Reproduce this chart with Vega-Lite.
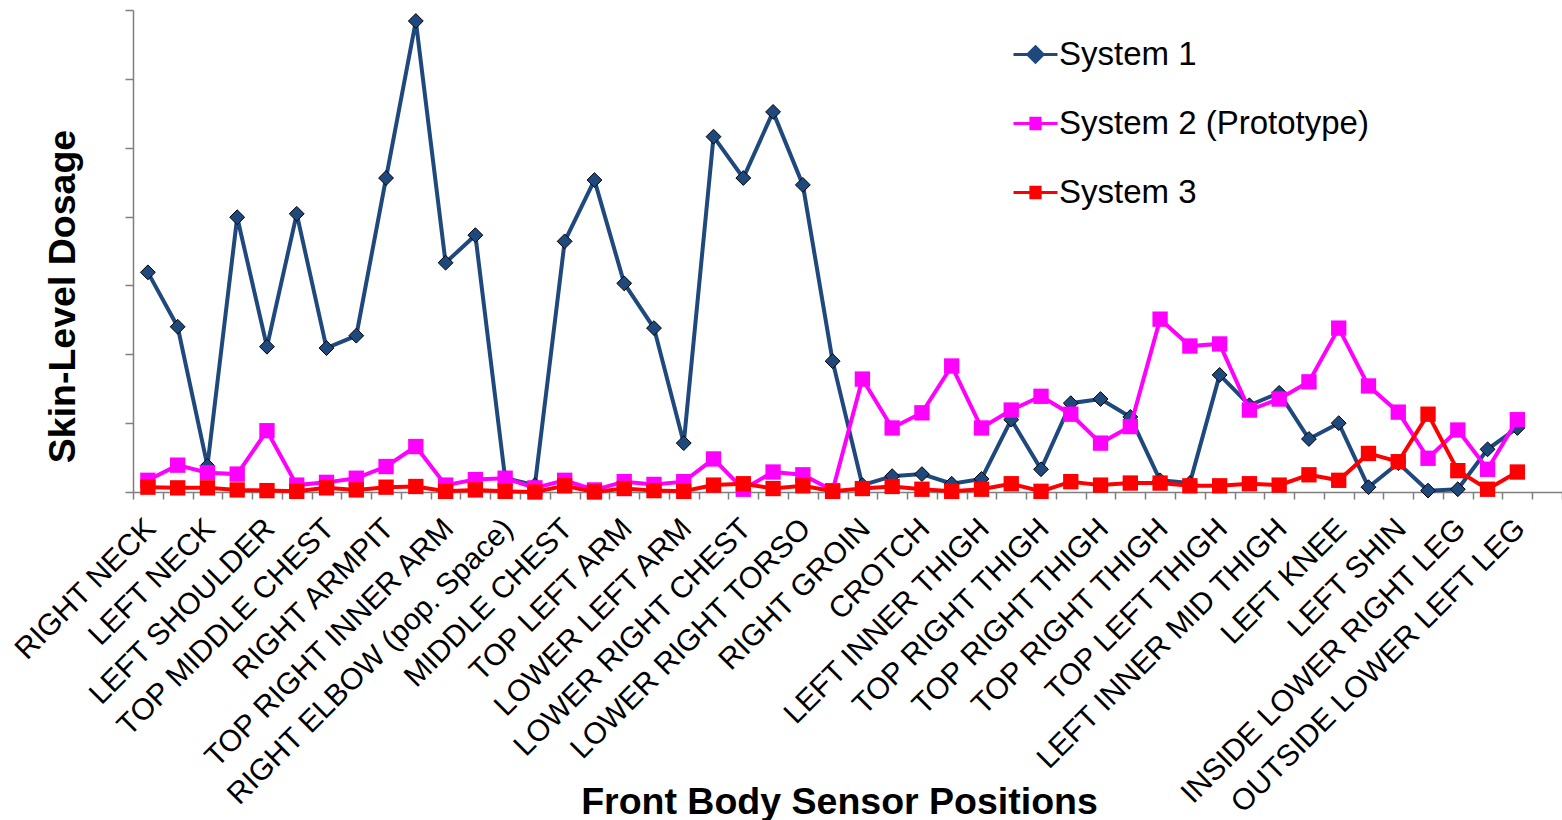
{
  "$schema": "https://vega.github.io/schema/vega-lite/v6.json",
  "autosize": "none",
  "width": 1429,
  "height": 482,
  "padding": {"left": 133, "top": 10, "right": 0, "bottom": 328},
  "background": "white",
  "config": {"view": {"stroke": null}, "font": "Liberation Sans"},
  "data": {"values": [
    {"sensor": "RIGHT NECK", "series": "System 1", "dose": 3.19},
    {"sensor": "CENTER NECK", "series": "System 1", "dose": 2.40},
    {"sensor": "LEFT NECK", "series": "System 1", "dose": 0.38},
    {"sensor": "RIGHT SHOULDER", "series": "System 1", "dose": 3.99},
    {"sensor": "LEFT SHOULDER", "series": "System 1", "dose": 2.11},
    {"sensor": "TOP RIGHT CHEST", "series": "System 1", "dose": 4.04},
    {"sensor": "TOP MIDDLE CHEST", "series": "System 1", "dose": 2.09},
    {"sensor": "TOP LEFT CHEST", "series": "System 1", "dose": 2.27},
    {"sensor": "RIGHT ARMPIT", "series": "System 1", "dose": 4.56},
    {"sensor": "LEFT ARMPIT", "series": "System 1", "dose": 6.84},
    {"sensor": "TOP RIGHT INNER ARM", "series": "System 1", "dose": 3.33},
    {"sensor": "TOP RIGHT OUTER ARM", "series": "System 1", "dose": 3.73},
    {"sensor": "RIGHT ELBOW (pop. Space)", "series": "System 1", "dose": 0.20},
    {"sensor": "RIGHT FOREARM", "series": "System 1", "dose": 0.10},
    {"sensor": "MIDDLE CHEST", "series": "System 1", "dose": 3.64},
    {"sensor": "TOP LEFT INNER ARM", "series": "System 1", "dose": 4.53},
    {"sensor": "TOP LEFT ARM", "series": "System 1", "dose": 3.03},
    {"sensor": "LEFT ELBOW", "series": "System 1", "dose": 2.38},
    {"sensor": "LOWER LEFT ARM", "series": "System 1", "dose": 0.71},
    {"sensor": "LOWER MIDDLE CHEST", "series": "System 1", "dose": 5.16},
    {"sensor": "LOWER RIGHT CHEST", "series": "System 1", "dose": 4.56},
    {"sensor": "LOWER LEFT CHEST", "series": "System 1", "dose": 5.52},
    {"sensor": "LOWER RIGHT TORSO", "series": "System 1", "dose": 4.46},
    {"sensor": "LOWER LEFT TORSO", "series": "System 1", "dose": 1.90},
    {"sensor": "RIGHT GROIN", "series": "System 1", "dose": 0.10},
    {"sensor": "LEFT GROIN", "series": "System 1", "dose": 0.23},
    {"sensor": "CROTCH", "series": "System 1", "dose": 0.26},
    {"sensor": "RIGHT INNER THIGH", "series": "System 1", "dose": 0.12},
    {"sensor": "LEFT INNER THIGH", "series": "System 1", "dose": 0.19},
    {"sensor": "TOP LEFT INNER THIGH", "series": "System 1", "dose": 1.05},
    {"sensor": "TOP RIGHT THIGH", "series": "System 1", "dose": 0.33},
    {"sensor": "MID RIGHT THIGH", "series": "System 1", "dose": 1.29},
    {"sensor": "TOP RIGHT THIGH ", "series": "System 1", "dose": 1.35},
    {"sensor": "OUTER RIGHT THIGH", "series": "System 1", "dose": 1.09},
    {"sensor": "TOP RIGHT THIGH  ", "series": "System 1", "dose": 0.17},
    {"sensor": "RIGHT INNER MID THIGH", "series": "System 1", "dose": 0.13},
    {"sensor": "TOP LEFT THIGH", "series": "System 1", "dose": 1.70},
    {"sensor": "MID LEFT THIGH", "series": "System 1", "dose": 1.26},
    {"sensor": "LEFT INNER MID THIGH", "series": "System 1", "dose": 1.44},
    {"sensor": "RIGHT KNEE", "series": "System 1", "dose": 0.77},
    {"sensor": "LEFT KNEE", "series": "System 1", "dose": 1.00},
    {"sensor": "RIGHT SHIN", "series": "System 1", "dose": 0.07},
    {"sensor": "LEFT SHIN", "series": "System 1", "dose": 0.42},
    {"sensor": "OUTSIDE LOWER RIGHT LEG", "series": "System 1", "dose": 0.02},
    {"sensor": "INSIDE LOWER RIGHT LEG", "series": "System 1", "dose": 0.04},
    {"sensor": "INSIDE LOWER LEFT LEG", "series": "System 1", "dose": 0.62},
    {"sensor": "OUTSIDE LOWER LEFT LEG", "series": "System 1", "dose": 0.93},

    {"sensor": "RIGHT NECK", "series": "System 2 (Prototype)", "dose": 0.17},
    {"sensor": "CENTER NECK", "series": "System 2 (Prototype)", "dose": 0.39},
    {"sensor": "LEFT NECK", "series": "System 2 (Prototype)", "dose": 0.28},
    {"sensor": "RIGHT SHOULDER", "series": "System 2 (Prototype)", "dose": 0.26},
    {"sensor": "LEFT SHOULDER", "series": "System 2 (Prototype)", "dose": 0.89},
    {"sensor": "TOP RIGHT CHEST", "series": "System 2 (Prototype)", "dose": 0.10},
    {"sensor": "TOP MIDDLE CHEST", "series": "System 2 (Prototype)", "dose": 0.14},
    {"sensor": "TOP LEFT CHEST", "series": "System 2 (Prototype)", "dose": 0.20},
    {"sensor": "RIGHT ARMPIT", "series": "System 2 (Prototype)", "dose": 0.37},
    {"sensor": "LEFT ARMPIT", "series": "System 2 (Prototype)", "dose": 0.66},
    {"sensor": "TOP RIGHT INNER ARM", "series": "System 2 (Prototype)", "dose": 0.10},
    {"sensor": "TOP RIGHT OUTER ARM", "series": "System 2 (Prototype)", "dose": 0.18},
    {"sensor": "RIGHT ELBOW (pop. Space)", "series": "System 2 (Prototype)", "dose": 0.20},
    {"sensor": "RIGHT FOREARM", "series": "System 2 (Prototype)", "dose": 0.06},
    {"sensor": "MIDDLE CHEST", "series": "System 2 (Prototype)", "dose": 0.17},
    {"sensor": "TOP LEFT INNER ARM", "series": "System 2 (Prototype)", "dose": 0.03},
    {"sensor": "TOP LEFT ARM", "series": "System 2 (Prototype)", "dose": 0.15},
    {"sensor": "LEFT ELBOW", "series": "System 2 (Prototype)", "dose": 0.11},
    {"sensor": "LOWER LEFT ARM", "series": "System 2 (Prototype)", "dose": 0.15},
    {"sensor": "LOWER MIDDLE CHEST", "series": "System 2 (Prototype)", "dose": 0.48},
    {"sensor": "LOWER RIGHT CHEST", "series": "System 2 (Prototype)", "dose": 0.04},
    {"sensor": "LOWER LEFT CHEST", "series": "System 2 (Prototype)", "dose": 0.29},
    {"sensor": "LOWER RIGHT TORSO", "series": "System 2 (Prototype)", "dose": 0.25},
    {"sensor": "LOWER LEFT TORSO", "series": "System 2 (Prototype)", "dose": 0.02},
    {"sensor": "RIGHT GROIN", "series": "System 2 (Prototype)", "dose": 1.64},
    {"sensor": "LEFT GROIN", "series": "System 2 (Prototype)", "dose": 0.93},
    {"sensor": "CROTCH", "series": "System 2 (Prototype)", "dose": 1.15},
    {"sensor": "RIGHT INNER THIGH", "series": "System 2 (Prototype)", "dose": 1.83},
    {"sensor": "LEFT INNER THIGH", "series": "System 2 (Prototype)", "dose": 0.93},
    {"sensor": "TOP LEFT INNER THIGH", "series": "System 2 (Prototype)", "dose": 1.19},
    {"sensor": "TOP RIGHT THIGH", "series": "System 2 (Prototype)", "dose": 1.39},
    {"sensor": "MID RIGHT THIGH", "series": "System 2 (Prototype)", "dose": 1.13},
    {"sensor": "TOP RIGHT THIGH ", "series": "System 2 (Prototype)", "dose": 0.71},
    {"sensor": "OUTER RIGHT THIGH", "series": "System 2 (Prototype)", "dose": 0.95},
    {"sensor": "TOP RIGHT THIGH  ", "series": "System 2 (Prototype)", "dose": 2.51},
    {"sensor": "RIGHT INNER MID THIGH", "series": "System 2 (Prototype)", "dose": 2.12},
    {"sensor": "TOP LEFT THIGH", "series": "System 2 (Prototype)", "dose": 2.15},
    {"sensor": "MID LEFT THIGH", "series": "System 2 (Prototype)", "dose": 1.19},
    {"sensor": "LEFT INNER MID THIGH", "series": "System 2 (Prototype)", "dose": 1.35},
    {"sensor": "RIGHT KNEE", "series": "System 2 (Prototype)", "dose": 1.60},
    {"sensor": "LEFT KNEE", "series": "System 2 (Prototype)", "dose": 2.38},
    {"sensor": "RIGHT SHIN", "series": "System 2 (Prototype)", "dose": 1.54},
    {"sensor": "LEFT SHIN", "series": "System 2 (Prototype)", "dose": 1.16},
    {"sensor": "OUTSIDE LOWER RIGHT LEG", "series": "System 2 (Prototype)", "dose": 0.49},
    {"sensor": "INSIDE LOWER RIGHT LEG", "series": "System 2 (Prototype)", "dose": 0.90},
    {"sensor": "INSIDE LOWER LEFT LEG", "series": "System 2 (Prototype)", "dose": 0.33},
    {"sensor": "OUTSIDE LOWER LEFT LEG", "series": "System 2 (Prototype)", "dose": 1.05},

    {"sensor": "RIGHT NECK", "series": "System 3", "dose": 0.07},
    {"sensor": "CENTER NECK", "series": "System 3", "dose": 0.06},
    {"sensor": "LEFT NECK", "series": "System 3", "dose": 0.06},
    {"sensor": "RIGHT SHOULDER", "series": "System 3", "dose": 0.03},
    {"sensor": "LEFT SHOULDER", "series": "System 3", "dose": 0.02},
    {"sensor": "TOP RIGHT CHEST", "series": "System 3", "dose": 0.01},
    {"sensor": "TOP MIDDLE CHEST", "series": "System 3", "dose": 0.06},
    {"sensor": "TOP LEFT CHEST", "series": "System 3", "dose": 0.03},
    {"sensor": "RIGHT ARMPIT", "series": "System 3", "dose": 0.07},
    {"sensor": "LEFT ARMPIT", "series": "System 3", "dose": 0.08},
    {"sensor": "TOP RIGHT INNER ARM", "series": "System 3", "dose": 0.01},
    {"sensor": "TOP RIGHT OUTER ARM", "series": "System 3", "dose": 0.03},
    {"sensor": "RIGHT ELBOW (pop. Space)", "series": "System 3", "dose": 0.01},
    {"sensor": "RIGHT FOREARM", "series": "System 3", "dose": 0.00},
    {"sensor": "MIDDLE CHEST", "series": "System 3", "dose": 0.09},
    {"sensor": "TOP LEFT INNER ARM", "series": "System 3", "dose": 0.00},
    {"sensor": "TOP LEFT ARM", "series": "System 3", "dose": 0.05},
    {"sensor": "LEFT ELBOW", "series": "System 3", "dose": 0.02},
    {"sensor": "LOWER LEFT ARM", "series": "System 3", "dose": 0.01},
    {"sensor": "LOWER MIDDLE CHEST", "series": "System 3", "dose": 0.10},
    {"sensor": "LOWER RIGHT CHEST", "series": "System 3", "dose": 0.12},
    {"sensor": "LOWER LEFT CHEST", "series": "System 3", "dose": 0.05},
    {"sensor": "LOWER RIGHT TORSO", "series": "System 3", "dose": 0.09},
    {"sensor": "LOWER LEFT TORSO", "series": "System 3", "dose": 0.01},
    {"sensor": "RIGHT GROIN", "series": "System 3", "dose": 0.05},
    {"sensor": "LEFT GROIN", "series": "System 3", "dose": 0.08},
    {"sensor": "CROTCH", "series": "System 3", "dose": 0.04},
    {"sensor": "RIGHT INNER THIGH", "series": "System 3", "dose": 0.01},
    {"sensor": "LEFT INNER THIGH", "series": "System 3", "dose": 0.04},
    {"sensor": "TOP LEFT INNER THIGH", "series": "System 3", "dose": 0.12},
    {"sensor": "TOP RIGHT THIGH", "series": "System 3", "dose": 0.01},
    {"sensor": "MID RIGHT THIGH", "series": "System 3", "dose": 0.15},
    {"sensor": "TOP RIGHT THIGH ", "series": "System 3", "dose": 0.10},
    {"sensor": "OUTER RIGHT THIGH", "series": "System 3", "dose": 0.13},
    {"sensor": "TOP RIGHT THIGH  ", "series": "System 3", "dose": 0.13},
    {"sensor": "RIGHT INNER MID THIGH", "series": "System 3", "dose": 0.09},
    {"sensor": "TOP LEFT THIGH", "series": "System 3", "dose": 0.09},
    {"sensor": "MID LEFT THIGH", "series": "System 3", "dose": 0.12},
    {"sensor": "LEFT INNER MID THIGH", "series": "System 3", "dose": 0.10},
    {"sensor": "RIGHT KNEE", "series": "System 3", "dose": 0.25},
    {"sensor": "LEFT KNEE", "series": "System 3", "dose": 0.17},
    {"sensor": "RIGHT SHIN", "series": "System 3", "dose": 0.56},
    {"sensor": "LEFT SHIN", "series": "System 3", "dose": 0.44},
    {"sensor": "OUTSIDE LOWER RIGHT LEG", "series": "System 3", "dose": 1.13},
    {"sensor": "INSIDE LOWER RIGHT LEG", "series": "System 3", "dose": 0.31},
    {"sensor": "INSIDE LOWER LEFT LEG", "series": "System 3", "dose": 0.04},
    {"sensor": "OUTSIDE LOWER LEFT LEG", "series": "System 3", "dose": 0.29}
  ]},
  "encoding": {
    "x": {
      "field": "sensor",
      "type": "nominal",
      "scale": {
        "type": "band",
        "paddingInner": 0,
        "paddingOuter": 0,
        "domain": ["RIGHT NECK", "CENTER NECK", "LEFT NECK", "RIGHT SHOULDER", "LEFT SHOULDER", "TOP RIGHT CHEST", "TOP MIDDLE CHEST", "TOP LEFT CHEST", "RIGHT ARMPIT", "LEFT ARMPIT", "TOP RIGHT INNER ARM", "TOP RIGHT OUTER ARM", "RIGHT ELBOW (pop. Space)", "RIGHT FOREARM", "MIDDLE CHEST", "TOP LEFT INNER ARM", "TOP LEFT ARM", "LEFT ELBOW", "LOWER LEFT ARM", "LOWER MIDDLE CHEST", "LOWER RIGHT CHEST", "LOWER LEFT CHEST", "LOWER RIGHT TORSO", "LOWER LEFT TORSO", "RIGHT GROIN", "LEFT GROIN", "CROTCH", "RIGHT INNER THIGH", "LEFT INNER THIGH", "TOP LEFT INNER THIGH", "TOP RIGHT THIGH", "MID RIGHT THIGH", "TOP RIGHT THIGH ", "OUTER RIGHT THIGH", "TOP RIGHT THIGH  ", "RIGHT INNER MID THIGH", "TOP LEFT THIGH", "MID LEFT THIGH", "LEFT INNER MID THIGH", "RIGHT KNEE", "LEFT KNEE", "RIGHT SHIN", "LEFT SHIN", "OUTSIDE LOWER RIGHT LEG", "INSIDE LOWER RIGHT LEG", "INSIDE LOWER LEFT LEG", "OUTSIDE LOWER LEFT LEG", "RIGHT ANKLE"]
      },
      "axis": {
        "title": "Front Body Sensor Positions",
        "titleFont": "Liberation Sans",
        "titleFontSize": 37.5,
        "titleFontWeight": "bold",
        "titleColor": "black",
        "titleX": 706,
        "titleY": 321,
        "titleAlign": "center",
        "titleBaseline": "alphabetic",
        "labelExpr": "round(datum.index * 47) % 2 == 0 ? trim(datum.label) : ''",
        "labelAngle": -45,
        "labelAlign": "right",
        "labelBaseline": "top",
        "labelFont": "Liberation Sans",
        "labelFontSize": 30,
        "labelColor": "black",
        "labelPadding": 14,
        "labelOffset": -8,
        "labelOverlap": false,
        "labelBound": false,
        "labelFlush": false,
        "labelLimit": 1000,
        "tickBand": "extent",
        "tickSize": 7,
        "tickWidth": 1.5,
        "tickColor": "#7f7f7f",
        "domainColor": "#7f7f7f",
        "domainWidth": 1.5,
        "grid": false
      }
    },
    "y": {
      "field": "dose",
      "type": "quantitative",
      "scale": {"domain": [0, 7], "nice": false, "zero": true},
      "axis": {
        "title": "Skin-Level Dosage",
        "titleFont": "Liberation Sans",
        "titleFontSize": 37.5,
        "titleFontWeight": "bold",
        "titleColor": "black",
        "titleAngle": -90,
        "titleX": -59,
        "titleY": 286,
        "titleAlign": "center",
        "titleBaseline": "alphabetic",
        "labels": false,
        "values": [0, 1, 2, 3, 4, 5, 6, 7],
        "tickSize": 8,
        "tickWidth": 1.5,
        "tickColor": "#7f7f7f",
        "domainColor": "#7f7f7f",
        "domainWidth": 1.5,
        "grid": false
      }
    },
    "color": {
      "field": "series",
      "type": "nominal",
      "scale": {
        "domain": ["System 1", "System 2 (Prototype)", "System 3"],
        "range": ["#1F497D", "#FF00FF", "#FF0000"]
      },
      "legend": {
        "title": null,
        "orient": "none",
        "legendX": 879,
        "legendY": 21,
        "direction": "vertical",
        "padding": 0,
        "labelFont": "Liberation Sans",
        "labelFontSize": 33,
        "labelColor": "black",
        "labelOffset": 0,
        "labelLimit": 1000,
        "symbolSize": 1936,
        "symbolStrokeWidth": 3,
        "rowPadding": 28,
        "encode": {
          "symbols": {
            "update": {
              "shape": {"signal": "datum.value == 'System 1' ? 'M-1,0H1M0,-0.35L0.35,0L0,0.35L-0.35,0Z' : 'M-1,0H1M-0.21,-0.24H0.21V0.24H-0.21Z'"},
              "fill": {"signal": "scale('color', datum.value)"},
              "stroke": {"signal": "scale('color', datum.value)"},
              "fillOpacity": {"value": 1},
              "strokeOpacity": {"value": 1},
              "strokeWidth": {"value": 3}
            }
          }
        }
      }
    }
  },
  "layer": [
    {
      "transform": [{"filter": "datum.series == 'System 1'"}],
      "mark": {"type": "line", "strokeWidth": 4, "point": {"shape": "diamond", "filled": true, "size": 220, "stroke": "black", "strokeWidth": 1, "opacity": 1}}
    },
    {
      "transform": [{"filter": "datum.series == 'System 2 (Prototype)'"}],
      "mark": {"type": "line", "strokeWidth": 4, "point": {"shape": "square", "filled": true, "size": 235, "strokeWidth": 0, "opacity": 1}}
    },
    {
      "transform": [{"filter": "datum.series == 'System 3'"}],
      "mark": {"type": "line", "strokeWidth": 4, "point": {"shape": "square", "filled": true, "size": 235, "strokeWidth": 0, "opacity": 1}}
    }
  ]
}
